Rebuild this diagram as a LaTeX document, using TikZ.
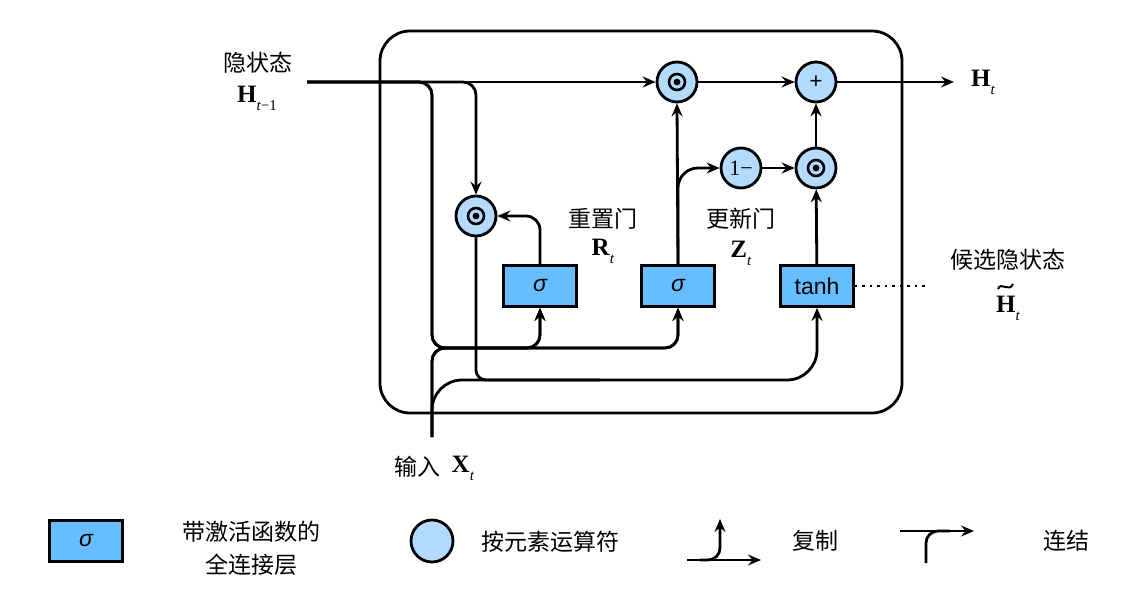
\documentclass[tikz,border=0pt]{standalone}
\usepackage{fontspec}
\setmainfont{Liberation Serif}
\newfontfamily\cjk{Noto Sans CJK SC}
\newfontfamily\arial{Liberation Sans}
\usetikzlibrary{arrows.meta}
\definecolor{boxblue}{HTML}{66BDFF}
\definecolor{circblue}{HTML}{B3DAFF}
\newcommand{\vsym}[2]{{\fontsize{25}{25}\selectfont\bfseries #1}\raisebox{-8pt}{\fontsize{15}{15}\selectfont #2}}
\begin{document}
\begin{tikzpicture}[x=1pt,y=-1pt,
  line/.style={line width=2.8pt},
  arr/.style={line width=2.8pt,-{Stealth[length=13pt,width=11pt,inset=4.5pt]}},
  fcbox/.style={draw,line width=2.8pt,fill=boxblue,minimum width=73pt,minimum height=41pt,inner sep=0pt,font=\arial\fontsize{23}{23}\selectfont},
  opnode/.style={draw,circle,line width=2.8pt,fill=circblue,minimum size=40pt,inner sep=0pt},
  odot/.style={opnode,path picture={\draw[black,line width=2.6pt] (path picture bounding box.center) circle (8pt);
      \fill[black] (path picture bounding box.center) circle (3.4pt);}},
  cjklab/.style={font=\cjk\fontsize{23}{23}\selectfont,inner sep=0pt},
  symlab/.style={inner sep=0pt}
]
\useasboundingbox (0,0) rectangle (1148,608);

% big rounded frame
\draw[line,rounded corners=30pt] (380,31) rectangle (902,413);

% operator nodes
\node[odot] (um) at (677,82) {};
\node[opnode,font=\arial\fontsize{22}{22}\selectfont] (plus) at (816,82) {+};
\node[opnode,font=\fontsize{22}{22}\selectfont] (om) at (741,168) {1−};
\node[odot] (cm) at (816,168) {};
\node[odot] (rm) at (476,216) {};

% FC boxes
\node[fcbox] (rs) at (540,286) {\itshape σ};
\node[fcbox] (us) at (678,286) {\itshape σ};
\node[fcbox] (th) at (817,286) {tanh};

% free ends
\coordinate (hs) at (307,82);
\coordinate (xs) at (432,437);
\coordinate (ht) at (954,82);
\coordinate (dotend) at (925,286);
\coordinate (hj) at (432,348);
\coordinate (xj) at (432,380);
\coordinate (rj) at (600,380);

% hidden state input
\draw[arr] (hs) -- (um.west);
\draw[arr,rounded corners=13pt] (hs) -| (rm.north);
\draw[arr,rounded corners=13pt] (hs) -| (hj) -| (rs.south);
\draw[arr,rounded corners=13pt] (hs) -| (hj) -| (us.south);

% X_t input
\draw[arr,rounded corners=13pt] (xs) -- (hj) -| (rs.south);
\draw[arr,rounded corners=13pt] (xs) -- (hj) -| (us.south);
\draw[arr,rounded corners=30pt] (xs) -- (xj) -| (th.south);

% reset gate
\draw[arr,rounded corners=14pt] (rs.north) |- (rm.east);
\draw[line,rounded corners=10pt] (rm.south) |- (rj);

% update gate
\draw[arr] (us.north) -- (um.south);
\draw[arr,rounded corners=20pt] (us.north) |- (om.west);
\draw[arr] (om) -- (cm);
\draw[arr] (th) -- (cm);
\draw[arr] (cm) -- (plus);
\draw[arr] (um) -- (plus);
\draw[arr] (plus) -- (ht);
\draw[line width=2.6pt,dash pattern=on 2.5pt off 5pt] (th.east) -- (dotend);

% labels
\node[cjklab] (lh) at (258,63) {隐状态};
\node[symlab] (lhv) at (257,98) {\vsym{H}{\textit{t}−1}};
\node[symlab] (lht) at (983,82) {\vsym{H}{\textit{t}}};
\node[cjklab] (lr) at (603,219) {重置门};
\node[symlab] (lrv) at (603,251) {\vsym{R}{\textit{t}}};
\node[cjklab] (lz) at (741,219) {更新门};
\node[symlab] (lzv) at (741,253) {\vsym{Z}{\textit{t}}};
\node[cjklab] (lc) at (1008,260) {候选隐状态};
\node[symlab] (lcv) at (1008,308) {\vsym{H}{\textit{t}}};
\draw[line width=2pt] (998,289) .. controls (1001,281) and (1009,293) .. (1013,284);
\node[cjklab] (lx) at (417,467) {输入};
\node[symlab] (lxv) at (463,468) {\vsym{X}{\textit{t}}};

% legend
\node[fcbox] (lgbox) at (86,541) {\itshape σ};
\node[cjklab,align=center] (lgboxt) at (251,548) {带激活函数的\\[10pt]全连接层};
\node[opnode,minimum size=42pt] (lgcirc) at (432,541) {};
\node[cjklab] (lgcirct) at (550,542) {按元素运算符};
\coordinate (cpa) at (687,560);
\coordinate (cpb) at (761,560);
\coordinate (cpc) at (700,560);
\coordinate (cpd) at (720,519);
\draw[arr] (cpa) -- (cpb);
\draw[arr,rounded corners=12pt] (cpc) -| (cpd);
\node[cjklab] (lgcp) at (815,541) {复制};
\coordinate (cca) at (900,531);
\coordinate (ccb) at (974,531);
\coordinate (ccc) at (926,563);
\coordinate (ccd) at (950,531);
\draw[arr] (cca) -- (ccb);
\draw[line,rounded corners=12pt] (ccc) |- (ccd);
\node[cjklab] (lgcc) at (1066,541) {连结};
\end{tikzpicture}
\end{document}
